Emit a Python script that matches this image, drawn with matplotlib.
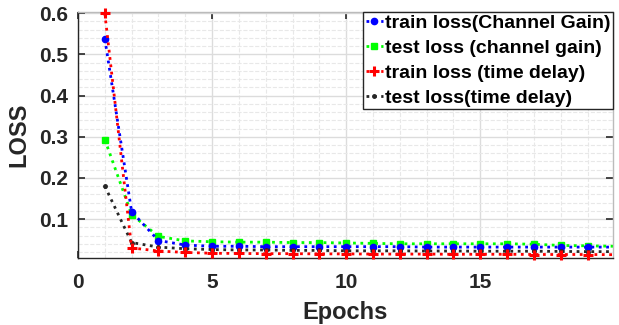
import matplotlib
matplotlib.use("Agg")
import matplotlib.pyplot as plt
from matplotlib.ticker import MultipleLocator
from matplotlib.lines import Line2D

epochs = list(range(1, 21))
train_cg = [0.538, 0.118, 0.048, 0.037, 0.034, 0.034, 0.033, 0.033, 0.033, 0.033,
            0.033, 0.033, 0.032, 0.032, 0.032, 0.032, 0.032, 0.032, 0.032, 0.032]
test_cg = [0.293, 0.111, 0.058, 0.047, 0.045, 0.044, 0.044, 0.043, 0.043, 0.042,
           0.041, 0.040, 0.040, 0.040, 0.040, 0.040, 0.039, 0.036, 0.035, 0.034]
train_td = [0.600, 0.030, 0.0225, 0.019, 0.017, 0.0165, 0.016, 0.016, 0.0155, 0.0155,
            0.015, 0.015, 0.015, 0.0145, 0.0145, 0.0145, 0.014, 0.014, 0.014, 0.0135]
test_td = [0.180, 0.043, 0.032, 0.028, 0.026, 0.025, 0.025, 0.024, 0.024, 0.023,
           0.023, 0.023, 0.0225, 0.0225, 0.022, 0.022, 0.022, 0.0215, 0.021, 0.021]

labels = ["train loss(Channel Gain)", "test loss (channel gain)",
          "train loss (time delay)", "test loss(time delay)"]
x_ticks = [0, 5, 10, 15]
y_ticks = [0.1, 0.2, 0.3, 0.4, 0.5, 0.6]

plt.rcParams['font.family'] = ['Liberation Sans', 'DejaVu Sans']
plt.rcParams['font.weight'] = 'bold'

fig = plt.figure(figsize=(6.19, 3.25), dpi=100)
ax = fig.add_axes([78/619, 1 - 258/325, (613-78)/619, (258-12)/325])

XMAX = 19.95
lw = 2.0
styles = [
    (train_cg, dict(color='#0000ff', marker='o', markersize=4.5, markerfacecolor='#0000ff'), 3),
    (test_cg, dict(color='#00ff00', marker='s', markersize=5, markerfacecolor='#00ff00'), 2),
    (train_td, dict(color='#ff0000', marker='+', markersize=7, markeredgewidth=2.2), 4),
    (test_td, dict(color='#262626', marker='.', markersize=5), 3),
]
handles = []
for (ys, st, z), lab in zip(styles, labels):
    ax.plot(epochs, ys, color=st['color'], linestyle=':', linewidth=lw, zorder=z)
    vx = [e for e in epochs if e <= XMAX]
    vy = [y for e, y in zip(epochs, ys) if e <= XMAX]
    ax.plot(vx, vy, linestyle='none', clip_on=False, zorder=z, **st)
    handles.append(Line2D([], [], linestyle=':', linewidth=lw, **st))

ax.set_xlim(0, XMAX)
ax.set_ylim(0.0055, 0.603)
ax.set_xticks(x_ticks)
ax.set_yticks(y_ticks)
ax.set_yticklabels(["0.1", "0.2", "0.3", "0.4", "0.5", "0.6"])
ax.xaxis.set_minor_locator(MultipleLocator(1))
ax.yaxis.set_minor_locator(MultipleLocator(0.02))

ax.grid(True, which='major', color='#dcdcdc', linewidth=1.0, linestyle='-')
ax.grid(True, which='minor', color='#e8e8e8', linewidth=0.8, linestyle='--')
ax.set_axisbelow(True)

ax.tick_params(which='major', direction='in', length=5, width=1.2, labelsize=15,
               colors='#262626', top=True, right=True)
ax.tick_params(axis='x', which='major', pad=11)
ax.tick_params(axis='y', which='major', pad=7)
ax.tick_params(which='minor', length=0)
for lab in ax.get_xticklabels() + ax.get_yticklabels():
    lab.set_fontweight('bold')

for side in ['left', 'bottom']:
    ax.spines[side].set_color('#262626')
    ax.spines[side].set_linewidth(1.0)
for side in ['top', 'right']:
    ax.spines[side].set_color('#bbbbbb')
    ax.spines[side].set_linewidth(1.0)

ax.set_xlabel("Epochs", fontsize=17, fontweight='bold', color='#262626', labelpad=6)
ax.set_ylabel("LOSS", fontsize=17, fontweight='bold', color='#262626', labelpad=6)

leg = ax.legend(handles, labels, loc='upper right', frameon=True, fancybox=False,
                handlelength=0.9, handletextpad=0.1, borderpad=0.12,
                labelspacing=0.38, borderaxespad=0.0,
                prop={'weight': 'bold', 'size': 14})
leg.set_zorder(10)
leg.get_frame().set_edgecolor('#262626')
leg.get_frame().set_linewidth(1.0)
leg.get_frame().set_alpha(1.0)

fig.savefig("out.png", dpi=100)
